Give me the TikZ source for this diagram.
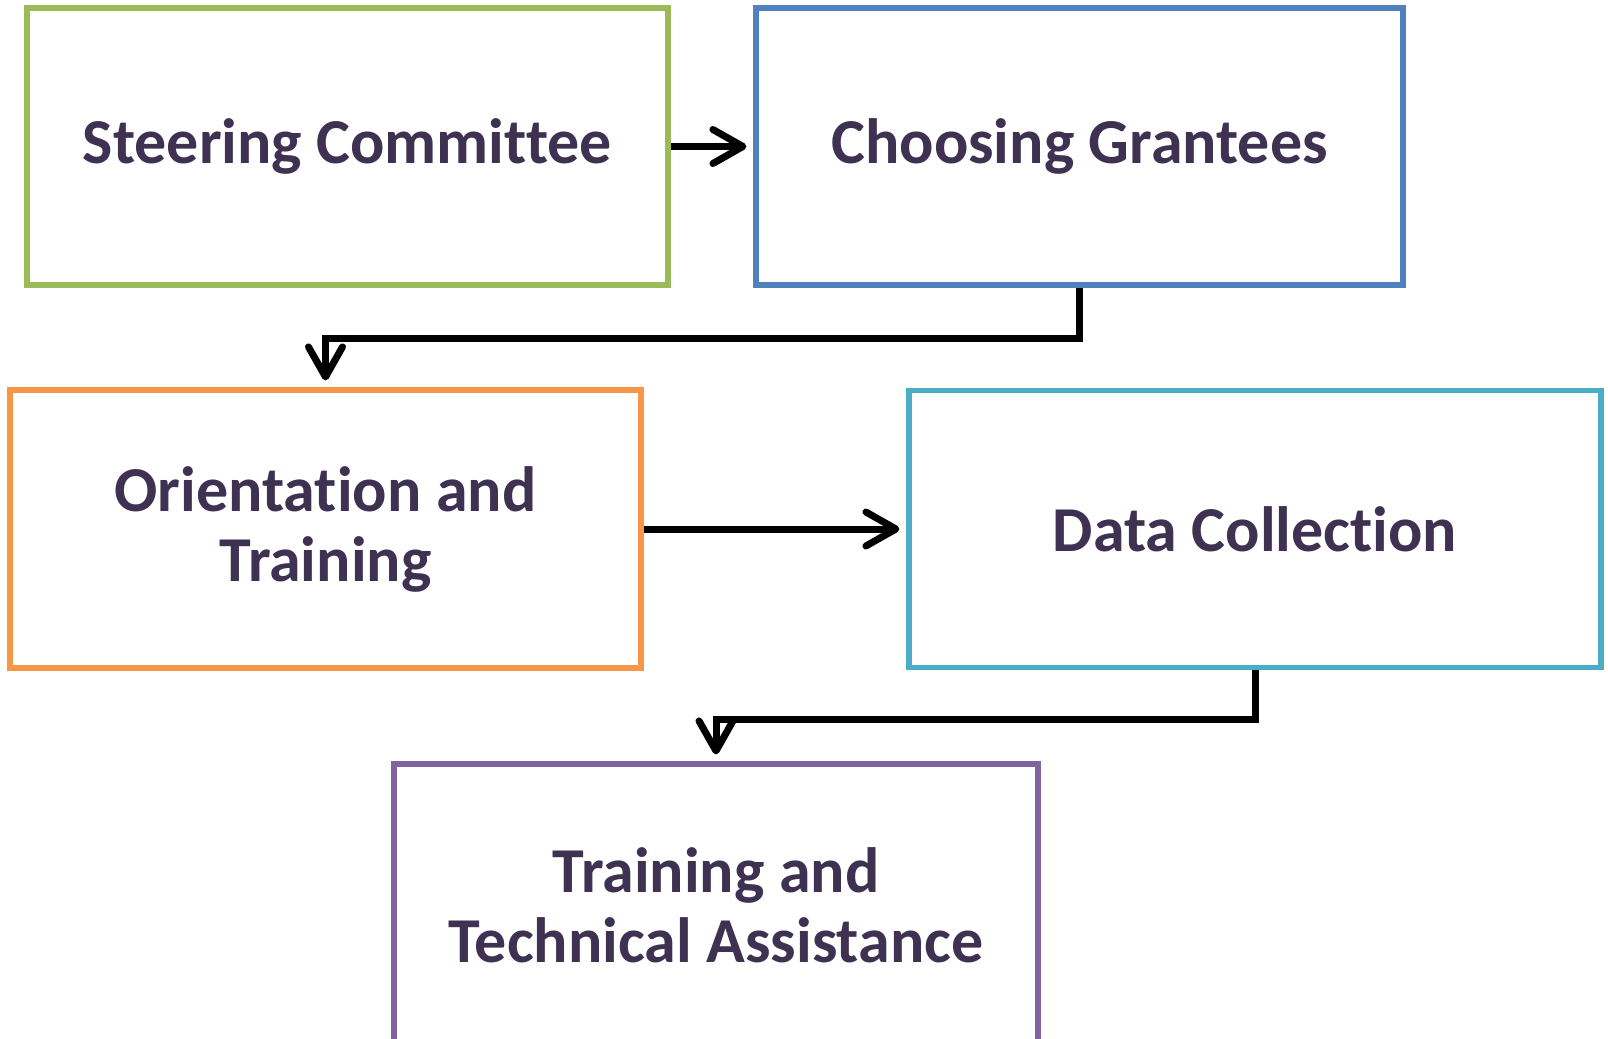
\documentclass[tikz,border=0pt]{standalone}
\usepackage{fontspec}
\setmainfont{Carlito}[Ligatures=NoCommon]
\usetikzlibrary{positioning, arrows.meta}

\definecolor{textpurple}{HTML}{3F3151}
\definecolor{boxgreen}{HTML}{9BBB59}
\definecolor{boxblue}{HTML}{4F81BD}
\definecolor{boxorange}{HTML}{F79646}
\definecolor{boxteal}{HTML}{4BACC6}
\definecolor{boxpurple}{HTML}{8064A2}

\begin{document}
\begin{tikzpicture}[x=0.5pt,y=-0.5pt,line width=3.5pt,shorten >=3.5pt,node distance=41.4pt,
		>={Straight Barb[round,length=15pt,width=17pt]}]
			
			\tikzstyle{every node}=[font=\fontsize{32}{35}\selectfont\bfseries,text=textpurple,align=center]
			
			\tikzstyle{step box}=[rectangle,line width=2.6pt,inner sep=0pt,minimum height=138.5pt]
			
			\clip (0,0) rectangle (1608,1039);
			
			\node[step box,draw=boxgreen,minimum width=320.5pt]  (SC) at (347.5,146.5) {Steering Committee};
			\node[step box,draw=boxblue,minimum width=323.5pt]   (CG) [right=41.4pt of SC] {Choosing Grantees};
			\node[step box,draw=boxorange,minimum width=315.5pt,minimum height=139pt] (OT) at (325.5,529) {Orientation and\\Training};
			\node[step box,draw=boxteal,minimum width=346pt]     (DC) [right=131.4pt of OT] {Data Collection};
			\node[step box,draw=boxpurple,minimum width=322pt,minimum height=141pt] (TA) at (716,905) {Training and\\Technical Assistance};
			
			\path[->] (SC) edge (CG)
			(OT) edge (DC);
			\draw[->] (CG.south) -- ++(0,51) -| (OT.north);
			\draw[->] (DC.south) -- ++(0,49) -| (TA.north);
			
		\end{tikzpicture}
\end{document}
